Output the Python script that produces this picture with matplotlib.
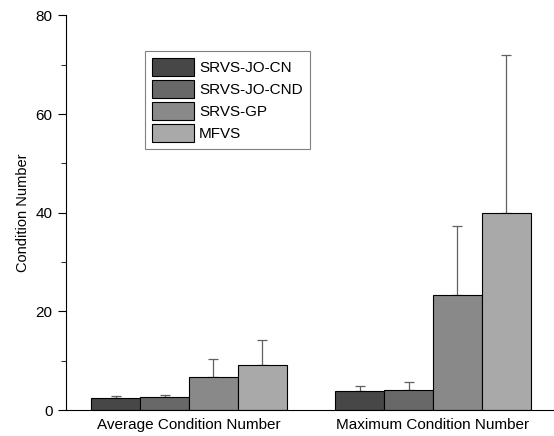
import numpy as np
import matplotlib
matplotlib.use("Agg")
import matplotlib.pyplot as plt

plt.rcParams['font.family'] = ['Liberation Sans', 'DejaVu Sans']

categories = ["Average Condition Number", "Maximum Condition Number"]
methods = ["SRVS-JO-CN", "SRVS-JO-CND", "SRVS-GP", "MFVS"]
# values per method: [average, maximum]
means = {
    "SRVS-JO-CN": [2.4, 3.9],
    "SRVS-JO-CND": [2.6, 4.1],
    "SRVS-GP": [6.6, 23.3],
    "MFVS": [9.1, 39.9],
}
errs = {
    "SRVS-JO-CN": [0.45, 0.9],
    "SRVS-JO-CND": [0.5, 1.5],
    "SRVS-GP": [3.7, 14.0],
    "MFVS": [5.0, 32.0],
}
colors = ["#474747", "#686868", "#898989", "#a9a9a9"]

fig = plt.figure(figsize=(5.54, 4.36), dpi=100)
ax = fig.add_axes([0.119, 0.0596, 0.881, 0.905])

x = np.arange(len(categories))
w = 0.2
for i, m in enumerate(methods):
    pos = x + (i - 1.5) * w
    ax.bar(pos, means[m], width=w, color=colors[i], edgecolor="black",
           linewidth=0.8, label=m, zorder=2)
    ax.errorbar(pos, means[m], yerr=[np.zeros(2), errs[m]], fmt="none",
                ecolor="#606060", elinewidth=0.9, capsize=3.5, capthick=0.9,
                zorder=1)

ax.set_xlim(-0.504, 1.496)
ax.set_ylim(0, 80)
ax.set_yticks([0, 20, 40, 60, 80])
ax.set_yticks([10, 30, 50, 70], minor=True)
ax.set_xticks(x)
ax.set_xticklabels(categories, fontsize=11)
ax.tick_params(axis="x", length=0, pad=6)
ax.tick_params(axis="y", which="major", length=6, labelsize=11, direction="out")
ax.tick_params(axis="y", which="minor", length=3.5, direction="out")
ax.set_ylabel("Condition Number", fontsize=10.5, labelpad=4)

ax.spines["top"].set_visible(False)
ax.spines["right"].set_visible(False)

leg = ax.legend(loc="upper left", bbox_to_anchor=(0.162, 0.91), fontsize=11,
                handlelength=2.75, handleheight=1.45, labelspacing=0.25,
                handletextpad=0.35, borderpad=0.45, borderaxespad=0,
                fancybox=False, edgecolor="#808080", framealpha=1)
leg.get_frame().set_linewidth(0.8)

fig.savefig("out.png", dpi=100)
